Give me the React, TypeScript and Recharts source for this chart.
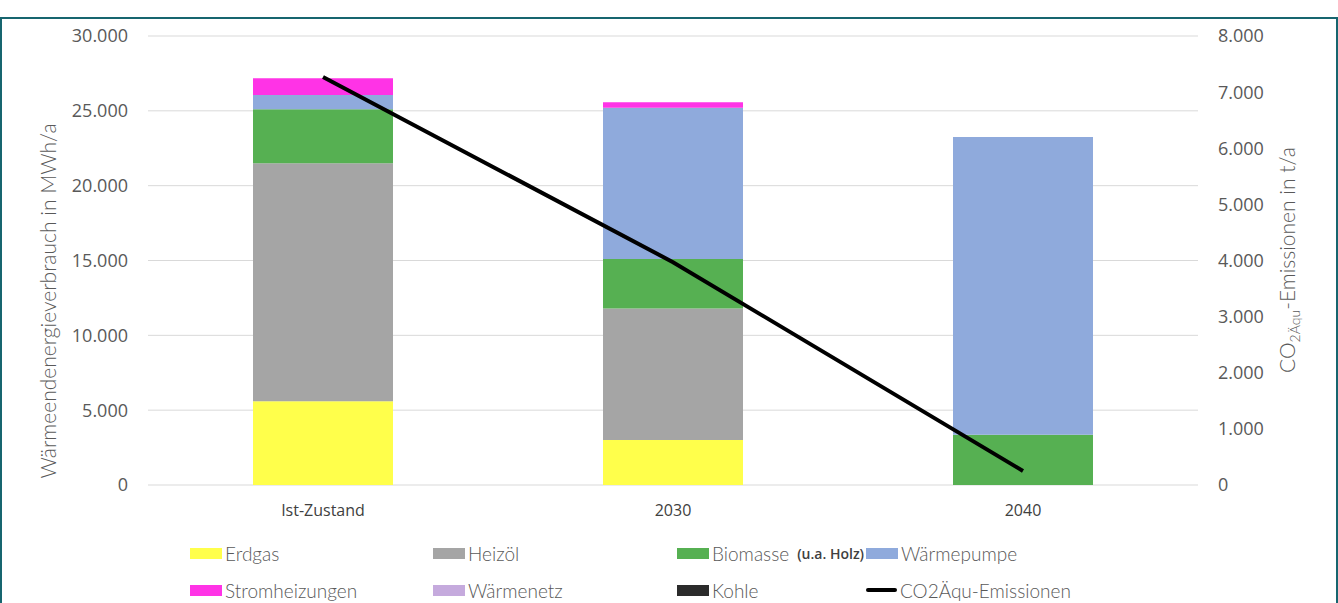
import React from "react";
import {
  Bar,
  CartesianGrid,
  ComposedChart,
  Line,
  XAxis,
  YAxis,
} from "recharts";

const categories = ["Ist-Zustand", "2030", "2040"];
const erdgas = [5600, 3000, 0];
const heizoel = [15900, 8800, 0];
const biomasse = [3600, 3300, 3350];
const waermepumpe = [950, 10100, 19900];
const stromheizungen = [1130, 380, 0];
const waermenetz = [0, 0, 0];
const kohle = [0, 0, 0];
const co2 = [7270, 3970, 250];

const leftTicks = [0, 5000, 10000, 15000, 20000, 25000, 30000];
const rightTicks = [0, 1000, 2000, 3000, 4000, 5000, 6000, 7000, 8000];

const series = [
  { key: "erdgas", name: "Erdgas", color: "#ffff4b", values: erdgas },
  { key: "heizoel", name: "Heizöl", color: "#a5a5a5", values: heizoel },
  { key: "biomasse", name: "Biomasse", color: "#56b052", values: biomasse },
  { key: "waermepumpe", name: "Wärmepumpe", color: "#8faadc", values: waermepumpe },
  { key: "strom", name: "Stromheizungen", color: "#ff33e6", values: stromheizungen },
  { key: "waermenetz", name: "Wärmenetz", color: "#c5aadd", values: waermenetz },
  { key: "kohle", name: "Kohle", color: "#2b2b2b", values: kohle },
];

const data = categories.map((name, i) => {
  const row: any = { name, co2: co2[i] };
  series.forEach((s) => (row[s.key] = s.values[i]));
  return row;
});

const fmt = (v: number) => String(v).replace(/\B(?=(\d{3})+(?!\d))/g, ".");

const font = "'Open Sans', sans-serif";
const light = "Lato, 'Open Sans', sans-serif";
const tickStyle = { fill: "#595959", fontSize: 18, fontFamily: font };

// legend order as in the original (two rows, four columns)
const legendItems = [
  { name: "Erdgas", color: "#ffff4b", row: 0, col: 0 },
  { name: "Heizöl", color: "#a5a5a5", row: 0, col: 1 },
  { name: "Biomasse", color: "#56b052", row: 0, col: 2, extra: "(u.a. Holz)" },
  { name: "Wärmepumpe", color: "#8faadc", row: 0, col: 3 },
  { name: "Stromheizungen", color: "#ff33e6", row: 1, col: 0 },
  { name: "Wärmenetz", color: "#c5aadd", row: 1, col: 1 },
  { name: "Kohle", color: "#2b2b2b", row: 1, col: 2 },
  { name: "CO2Äqu-Emissionen", color: "#000000", row: 1, col: 3, line: true },
];
const colX = [190, 433, 677, 866];
const rowY = [541, 578];

export default function App() {
  return (
    <div
      style={{
        position: "absolute",
        left: 0,
        top: 0,
        width: 1338,
        height: 603,
        overflow: "hidden",
        background: "#fff",
      }}
    >
      <div
        style={{
          position: "absolute",
          left: 0,
          top: 17,
          width: 1334,
          height: 600,
          border: "2px solid #17656f",
          borderBottom: "none",
        }}
      />
      <ComposedChart
        width={1338}
        height={603}
        data={data}
        margin={{ top: 36, right: 60, left: 68, bottom: 88 }}
        barCategoryGap="30%"
      >
        <CartesianGrid vertical={false} stroke="#d9d9d9" yAxisId="left" />
        <XAxis
          dataKey="name"
          height={30}
          axisLine={false}
          tickLine={false}
          tickSize={0}
          tickMargin={20}
          tick={{ fill: "#404040", fontSize: 16, fontFamily: font }}
        />
        <YAxis
          yAxisId="left"
          width={80}
          domain={[0, 30000]}
          ticks={leftTicks}
          tickFormatter={fmt}
          axisLine={false}
          tickLine={false}
          tickSize={0}
          tickMargin={20}
          tick={tickStyle}
          label={(props: any) => {
            const vb = props.viewBox;
            const x = vb.x - 21;
            const y = 301;
            return (
              <text
                x={x}
                y={y}
                transform={`rotate(-90 ${x} ${y})`}
                textAnchor="middle"
                dominantBaseline="central"
                fill="#595959"
                fontSize={21}
                fontWeight={300}
                fontFamily={light}
              >
                Wärmeendenergieverbrauch in MWh/a
              </text>
            );
          }}
        />
        <YAxis
          yAxisId="right"
          orientation="right"
          width={80}
          domain={[0, 8000]}
          ticks={rightTicks}
          tickFormatter={fmt}
          axisLine={false}
          tickLine={false}
          tickSize={0}
          tickMargin={20}
          tick={tickStyle}
          label={(props: any) => {
            const vb = props.viewBox;
            const x = vb.x + 88;
            const y = 260;
            return (
              <text
                x={x}
                y={y}
                transform={`rotate(-90 ${x} ${y})`}
                textAnchor="middle"
                dominantBaseline="central"
                fill="#595959"
                fontSize={21}
                fontWeight={300}
                fontFamily={light}
              >
                CO
                <tspan baselineShift="sub" fontSize={14}>
                  2Äqu
                </tspan>
                <tspan>-Emissionen in t/a</tspan>
              </text>
            );
          }}
        />
        {series.map((s) => (
          <Bar
            key={s.key}
            dataKey={s.key}
            name={s.name}
            stackId="a"
            yAxisId="left"
            fill={s.color}
            isAnimationActive={false}
          />
        ))}
        <Line
          dataKey="co2"
          name="CO2Äqu-Emissionen"
          yAxisId="right"
          stroke="#000"
          strokeWidth={4}
          dot={false}
          activeDot={false}
          type="linear"
          isAnimationActive={false}
        />
      </ComposedChart>
      {legendItems.map((it) => (
        <div
          key={it.name}
          style={{
            position: "absolute",
            left: colX[it.col],
            top: rowY[it.row],
            height: 24,
            display: "flex",
            alignItems: "center",
            whiteSpace: "nowrap",
            fontFamily: light,
            fontSize: 19,
            fontWeight: 300,
            color: "#595959",
          }}
        >
          {it.line ? (
            <span
              style={{
                display: "inline-block",
                width: 31,
                height: 4,
                borderRadius: 2,
                background: it.color,
                marginRight: 3,
              }}
            />
          ) : (
            <span
              style={{
                display: "inline-block",
                width: 32,
                height: 11,
                background: it.color,
                marginRight: 3,
              }}
            />
          )}
          <span>{it.name}</span>
          {it.extra && (
            <span
              style={{
                fontFamily: font,
                fontSize: 14,
                fontWeight: 600,
                color: "#404040",
                marginLeft: 8,
              }}
            >
              {it.extra}
            </span>
          )}
        </div>
      ))}
    </div>
  );
}
